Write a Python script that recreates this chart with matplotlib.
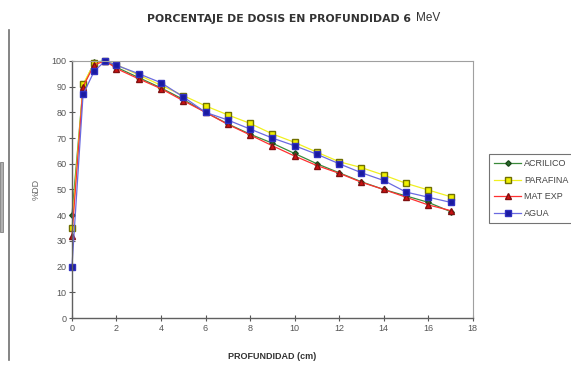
import matplotlib
matplotlib.use('Agg')
import matplotlib.pyplot as plt
from matplotlib.patches import Rectangle
from matplotlib.lines import Line2D

plt.rcParams['font.family'] = ['Liberation Sans', 'DejaVu Sans']

# profundidad (cm) y % de dosis
profundidad = [0, 0.5, 1, 1.5, 2, 3, 4, 5, 6, 7, 8, 9, 10, 11, 12, 13, 14, 15, 16, 17]
acrilico = [40, 90, 99.5, 100, 97.5, 93.5, 89.5, 85, 80, 75.5, 71.5, 68, 64, 60, 56.5, 53, 50, 47.5, 45, 41.4]
parafina = [35, 91, 99, 100, 98.5, 94.5, 90.5, 86.5, 82.5, 79, 75.7, 71.6, 68.3, 64.5, 60.8, 58.5, 55.6, 52.4, 49.8, 47.2]
mat_exp = [32, 90, 98.5, 100, 97, 93, 89.2, 84.5, 80, 75.3, 71.2, 67, 63, 59.3, 56.3, 52.8, 50, 47, 44, 41.8]
agua = [20, 87, 96, 100, 98.3, 95, 91.5, 86, 80, 77, 73.5, 70, 67, 63.7, 60, 56.5, 53.5, 49, 47, 45]
etiquetas = ['ACRILICO', 'PARAFINA', 'MAT EXP', 'AGUA']

fig = plt.figure(figsize=(5.71, 3.69), dpi=100)
ax = fig.add_axes([0.126, 0.138, 0.702, 0.697])

ax.plot(profundidad, acrilico, color='#3a8a3a', lw=0.9, marker='D', ms=2.8,
        mfc='#2a6a2a', mec='#1a4a1a', label=etiquetas[0], clip_on=False)
ax.plot(profundidad, parafina, color='#f0f020', lw=0.9, marker='s', ms=4,
        mfc='#f0f000', mec='#707000', label=etiquetas[1], clip_on=False)
ax.plot(profundidad, mat_exp, color='#ff3030', lw=0.9, marker='^', ms=3.8,
        mfc='#d01010', mec='#801010', label=etiquetas[2], clip_on=False)
ax.plot(profundidad, agua, color='#6a6ae0', lw=0.9, marker='s', ms=5,
        mfc='#1a1aa0', mec='#3030c0', label=etiquetas[3], clip_on=False)

ax.set_xlim(0, 18)
ax.set_ylim(0, 100)
ax.set_xticks(range(0, 19, 2))
ax.set_yticks(range(0, 101, 10))
ax.tick_params(labelsize=6.5, colors='#555555', direction='inout', length=4, width=0.8, pad=2)
for s in ['left', 'bottom']:
    ax.spines[s].set_color('#606060')
    ax.spines[s].set_linewidth(1.0)
for s in ['top', 'right']:
    ax.spines[s].set_color('#a0a0a0')
    ax.spines[s].set_linewidth(0.8)

ax.set_xlabel('PROFUNDIDAD (cm)', fontsize=6.5, fontweight='bold', color='#333333', labelpad=14)
ax.set_ylabel('%DD', fontsize=6.5, color='#666666', labelpad=8)

fig.text(0.258, 0.948, 'PORCENTAJE DE DOSIS EN PROFUNDIDAD 6', fontsize=7.8,
         family='DejaVu Sans', fontweight='bold', color='#333333', ha='left', va='center')
fig.text(0.728, 0.952, 'MeV', fontsize=8.5, color='#333333', ha='left', va='center')

leg = ax.legend(loc='upper left', bbox_to_anchor=(1.03, 0.655), fontsize=6.5,
                frameon=True, fancybox=False, edgecolor='#505050',
                handlelength=3.0, borderpad=0.55, labelspacing=0.85, handletextpad=0.3)
leg.get_frame().set_linewidth(0.8)
for t in leg.get_texts():
    t.set_color('#444444')

# bordes de la pagina escaneada
fig.add_artist(Line2D([0.015, 0.015], [0.025, 0.92], color='#707070', lw=1.2))
fig.add_artist(Rectangle((0.0, 0.372), 0.005, 0.19, facecolor='#b0b0b0',
                         edgecolor='#808080', lw=0.6))

fig.savefig('out.png', dpi=100)
